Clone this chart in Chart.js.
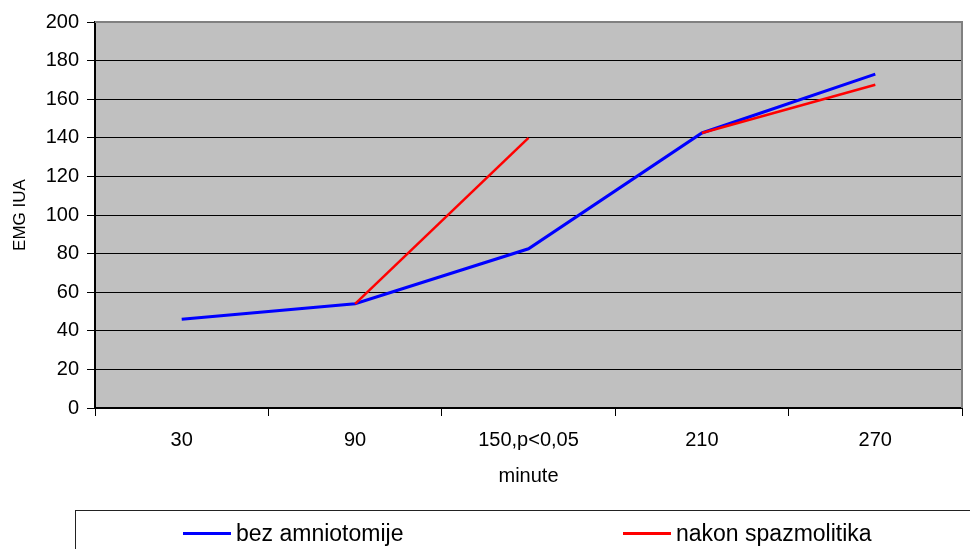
<!DOCTYPE html>
<html>
<head>
<meta charset="utf-8">
<script src="https://cdn.jsdelivr.net/npm/chart.js@4/dist/chart.umd.min.js"></script>
<style>
  html, body { margin: 0; padding: 0; background: #fff; }
  #wrap { position: relative; width: 970px; height: 549px; overflow: hidden; }
  #legend {
    position: absolute; left: 75px; top: 510px; width: 920px; height: 60px;
    border: 1px solid #222; box-sizing: border-box;
    font-family: "Liberation Sans", Arial, sans-serif; font-size: 23px; color: #000;
  }
  .item { position: absolute; top: 9px; display: flex; align-items: center; white-space: nowrap; }
  .swatch { width: 48px; height: 3px; margin-right: 5px; }
</style>
</head>
<body>
<div id="wrap">
  <canvas id="chart" width="970" height="549"></canvas>
  <div id="legend"></div>
</div>
<script>
// data
const categories = ['30', '90', '150,p<0,05', '210', '270'];
const bezAmniotomije = [46, 54, 82.5, 142.5, 173];
const nakonSpazmolitika = [null, 54, 140, 142.5, 167.5];
// the red series is not joined between these two categories
const redGapFrom = '150,p<0,05';
const yTicks = [0, 20, 40, 60, 80, 100, 120, 140, 160, 180, 200];

const font = "'Liberation Sans', Arial, sans-serif";

// grey plot background and its grey top/right frame
const plotBg = {
    id: 'plotBg',
    beforeDraw(chart) {
        const { ctx, chartArea: a } = chart;
        ctx.save();
        ctx.fillStyle = '#c0c0c0';
        ctx.fillRect(a.left, a.top, a.right - a.left, a.bottom - a.top);
        ctx.restore();
    },
    afterDraw(chart) {
        const { ctx, chartArea: a } = chart;
        ctx.save();
        ctx.strokeStyle = '#808080';
        ctx.lineWidth = 2;
        ctx.beginPath();
        ctx.moveTo(a.left, a.top);
        ctx.lineTo(a.right, a.top);
        ctx.lineTo(a.right, a.bottom);
        ctx.stroke();
        ctx.restore();
    }
};

const chart = new Chart(document.getElementById('chart').getContext('2d'), {
    type: 'line',
    data: {
        labels: categories,
        datasets: [{
            label: 'bez amniotomije',
            data: bezAmniotomije,
            borderColor: '#0000ff',
            borderWidth: 3,
            pointRadius: 0,
            tension: 0,
            order: 1
        }, {
            label: 'nakon spazmolitika',
            data: nakonSpazmolitika,
            borderColor: '#ff0000',
            borderWidth: 2.5,
            pointRadius: 0,
            tension: 0,
            order: 0,
            segment: {
                borderColor: ctx => categories[ctx.p0DataIndex] === redGapFrom ? 'rgba(0,0,0,0)' : undefined
            }
        }]
    },
    options: {
        responsive: false,
        animation: false,
        layout: { padding: { top: 22, right: 8, bottom: 51, left: 0 } },
        plugins: {
            legend: { display: false },
            tooltip: { enabled: false }
        },
        scales: {
            x: {
                offset: true,
                grid: { offset: true, drawOnChartArea: false, color: '#000', tickLength: 8 },
                border: { color: '#000', width: 2 },
                ticks: { color: '#000', font: { family: font, size: 20 }, padding: 12, maxRotation: 0 },
                title: { display: true, text: 'minute', color: '#000', font: { family: font, size: 20 }, padding: { top: 0, bottom: 10 } },
                afterFit: s => { s.height = 90; }
            },
            y: {
                min: 0,
                max: 200,
                afterBuildTicks: s => { s.ticks = yTicks.map(v => ({ value: v })); },
                grid: { color: '#000', lineWidth: 1, tickLength: 8 },
                border: { color: '#000', width: 2 },
                ticks: { color: '#000', font: { family: font, size: 20 }, padding: 8 },
                title: { display: true, text: 'EMG IUA', color: '#000', font: { family: font, size: 17 }, padding: { top: 10, bottom: 0 } },
                afterFit: s => { s.width = 95; }
            }
        }
    },
    plugins: [plotBg]
});

// legend box built from the datasets
const legend = document.getElementById('legend');
const itemLeft = [107, 547];
chart.data.datasets.forEach((ds, i) => {
    const item = document.createElement('div');
    item.className = 'item';
    item.style.left = itemLeft[i] + 'px';
    const sw = document.createElement('span');
    sw.className = 'swatch';
    sw.style.background = ds.borderColor;
    const txt = document.createElement('span');
    txt.textContent = ds.label;
    item.appendChild(sw);
    item.appendChild(txt);
    legend.appendChild(item);
});
</script>
</body>
</html>
